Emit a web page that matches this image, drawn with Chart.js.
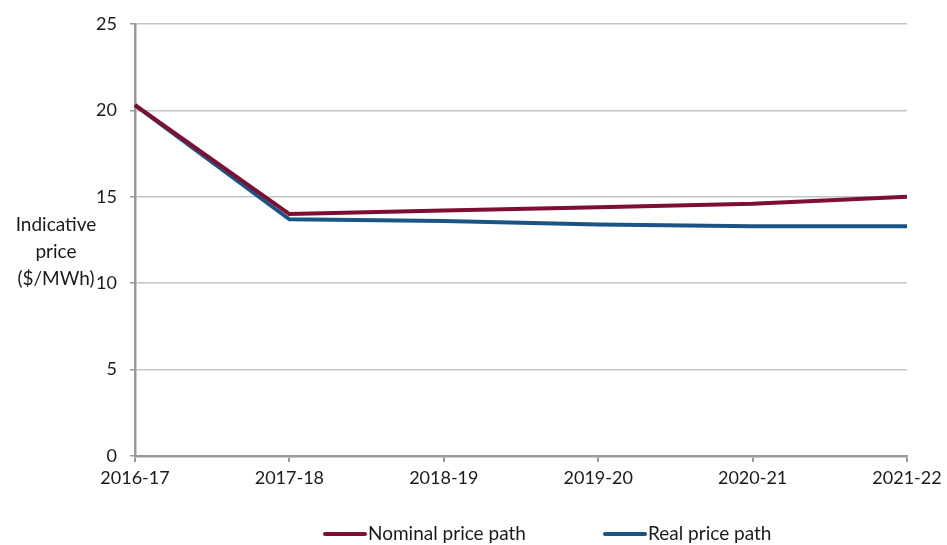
<!DOCTYPE html>
<html>
<head>
<meta charset="utf-8">
<script src="https://cdn.jsdelivr.net/npm/chart.js@4/dist/chart.umd.min.js"></script>
<style>
  html, body { margin: 0; padding: 0; background: #fff; }
  #wrap { width: 947px; height: 545px; }
</style>
</head>
<body>
<div id="wrap"><canvas id="c" width="947" height="545"></canvas></div>
<script>
const years = ['2016-17', '2017-18', '2018-19', '2019-20', '2020-21', '2021-22'];
const nominalPrice = [20.3, 14.0, 14.2, 14.4, 14.6, 15.0];
const realPrice = [20.3, 13.7, 13.6, 13.4, 13.3, 13.3];
const yTitleLines = ['Indicative', 'price', '($/MWh)'];
const seriesNames = ['Nominal price path', 'Real price path'];

const FONT = 'Lato, "DejaVu Sans", sans-serif';
const TEXT = '#1a1a1a';
const AXIS = '#9a9a9a';
const GRID = '#c4c4c4';

// Y-axis caption (horizontal, stacked lines) and the bottom legend
const extras = {
  id: 'extras',
  afterDraw(chart) {
    const ctx = chart.ctx;
    ctx.save();
    ctx.fillStyle = TEXT;
    ctx.font = '19px ' + FONT;
    ctx.textAlign = 'center';
    ctx.textBaseline = 'middle';
    const cy = chart.scales.y.getPixelForValue(11.8);
    yTitleLines.forEach((t, i) => ctx.fillText(t, 56, cy + (i - 1) * 27));

    // legend
    const items = [{ x: 325 }, { x: 605 }];
    const ly = 534;
    chart.data.datasets.forEach((ds, i) => {
      const x = items[i].x;
      ctx.strokeStyle = ds.borderColor;
      ctx.lineWidth = 4;
      ctx.lineCap = 'round';
      ctx.beginPath();
      ctx.moveTo(x, ly);
      ctx.lineTo(x + 40, ly);
      ctx.stroke();
      ctx.textAlign = 'left';
      ctx.fillStyle = TEXT;
      ctx.fillText(ds.label, x + 43, ly);
    });
    ctx.restore();
  }
};

new Chart(document.getElementById('c'), {
  type: 'line',
  data: {
    labels: years,
    datasets: [
      {
        label: seriesNames[0],
        data: nominalPrice,
        borderColor: '#7f0e32',
        backgroundColor: '#7f0e32',
        borderWidth: 4,
        pointRadius: 0,
        tension: 0
      },
      {
        label: seriesNames[1],
        data: realPrice,
        borderColor: '#1c5386',
        backgroundColor: '#1c5386',
        borderWidth: 4,
        pointRadius: 0,
        tension: 0
      }
    ]
  },
  options: {
    responsive: false,
    animation: false,
    layout: { padding: { top: 24, right: 40, bottom: 0, left: 0 } },
    plugins: {
      legend: { display: false },
      tooltip: { enabled: false }
    },
    scales: {
      x: {
        offset: false,
        grid: {
          drawOnChartArea: false,
          drawTicks: true,
          tickLength: 6,
          color: AXIS,
          lineWidth: 2
        },
        border: { color: AXIS, width: 2.5 },
        ticks: {
          color: TEXT,
          font: { family: FONT, size: 18 },
          padding: 5,
          maxRotation: 0,
          autoSkip: false
        },
        afterFit(s) { s.height = 89; }
      },
      y: {
        min: 0,
        max: 25,
        grid: {
          color: GRID,
          lineWidth: 1.5,
          drawTicks: true,
          tickLength: 5,
          tickColor: AXIS
        },
        border: { color: AXIS, width: 2.5 },
        ticks: {
          stepSize: 5,
          color: TEXT,
          font: { family: FONT, size: 18 },
          padding: 13
        },
        afterFit(s) { s.width = 135; }
      }
    }
  },
  plugins: [extras]
});
</script>
</body>
</html>
